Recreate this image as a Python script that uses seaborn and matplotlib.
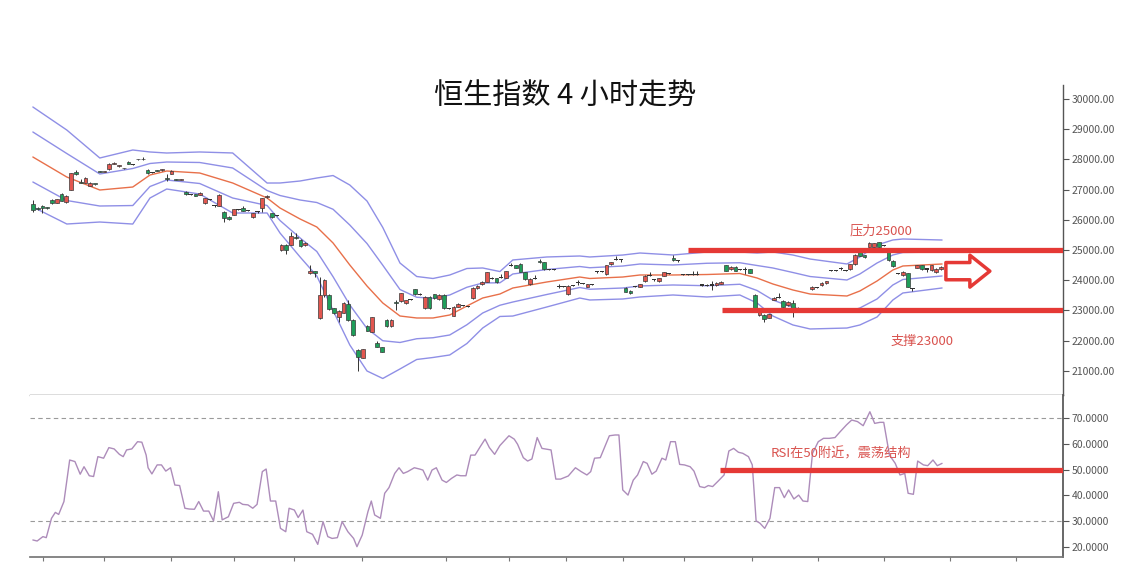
import numpy as np
import matplotlib
matplotlib.use("Agg")
import matplotlib.pyplot as plt
import seaborn as sns

# ---- 4h candles ----
opens = [26510, 26380, 26470, 26400, 26660, 26570, 26850, 26580, 26990, 27570,
         27240, 27230, 27130, 27190, 27600, 27590, 27670, 27850, 27780, 27700,
         27930, 27820, 28000, 28010, 27650, 27560, 27630, 27650, 27370, 27530,
         27340, 27330, 26930, 26840, 26850, 26820, 26550, 26680, 26460, 26460,
         26270, 26100, 26160, 26330, 26380, 26320, 26100, 26270, 26380, 26740,
         26210, 26130, 25000, 25170, 25170, 25410, 25330, 25150, 24230, 24300,
         22740, 23510, 23510, 23070, 22790, 22930, 23210, 22680, 21690, 21440,
         22480, 22300, 21910, 21780, 22680, 22480, 23260, 23310, 23230, 23370,
         23700, 23540, 23070, 23460, 23530, 23370, 23510, 23070, 22820, 23120,
         23150, 23120, 23400, 23730, 23870, 23950, 24060, 24060, 24100, 24080,
         24480, 24500, 24540, 24260, 23860, 24060, 24640, 24590, 24360, 24360,
         23790, 23780, 23530, 23820, 23930, 23900, 23790, 23860, 24300, 24300,
         24200, 24530, 24700, 24670, 23750, 23640, 23790, 23790, 23970, 24170,
         24030, 23970, 24150, 24230, 24750, 24640, 24190, 24190, 24190, 24180,
         23840, 23820, 23840, 23830, 23880, 24500, 24360, 24450, 24360, 24340,
         24360, 23510, 22850, 22850, 22760, 23350, 23430, 23310, 23170, 23230,
         23070, 23040, 23000, 23700, 23760, 23840, 23900, 24310, 24310, 24390,
         24330, 24360, 24530, 24920, 24830, 25110, 25110, 25250, 25140, 24940,
         24650, 24230, 24170, 24230, 23730, 24420, 24500, 24370, 24340, 24260,
         24370]
closes = [26330, 26360, 26380, 26390, 26550, 26680, 26630, 26790, 27540, 27510,
          27230, 27400, 27230, 27180, 27590, 27600, 27850, 27860, 27790, 27710,
          27850, 27820, 28010, 28000, 27540, 27560, 27620, 27660, 27360, 27620,
          27330, 27340, 26840, 26840, 26800, 26900, 26710, 26680, 26460, 26820,
          26050, 26030, 26350, 26330, 26290, 26320, 26210, 26270, 26710, 26790,
          26080, 26130, 25170, 25000, 25470, 25400, 25130, 25240, 24300, 24230,
          23510, 24010, 23050, 22900, 22980, 23260, 22680, 22180, 21470, 21710,
          22330, 22770, 21800, 21630, 22480, 22680, 23250, 23560, 23340, 23370,
          23540, 23540, 23460, 23070, 23400, 23510, 23070, 23070, 23120, 23210,
          23150, 23120, 23750, 23820, 23950, 24260, 24060, 23930, 24100, 24300,
          24480, 24420, 24280, 24040, 24040, 24060, 24590, 24370, 24360, 24360,
          23790, 23780, 23820, 23820, 23930, 23900, 23860, 23860, 24300, 24300,
          24500, 24590, 24700, 24670, 23620, 23570, 23790, 23860, 24140, 24170,
          24030, 24060, 24260, 24230, 24670, 24640, 24190, 24190, 24190, 24180,
          23840, 23820, 23840, 23920, 23950, 24320, 24450, 24320, 24360, 24340,
          24250, 23010, 22960, 22720, 22870, 23420, 23430, 23120, 23280, 22990,
          23070, 23040, 23000, 23780, 23760, 23920, 23970, 24310, 24310, 24390,
          24330, 24530, 24850, 24810, 24760, 25240, 25220, 25110, 25140, 24670,
          24470, 24230, 24280, 23790, 23730, 24500, 24370, 24370, 24500, 24370,
          24450]
highs = [26660, 26420, 26500, 26430, 26690, 26700, 26900, 26810, 27560, 27650,
         27340, 27420, 27250, 27200, 27610, 27610, 27870, 27930, 27800, 27720,
         27950, 27840, 28020, 28090, 27680, 27580, 27650, 27670, 27530, 27640,
         27360, 27350, 26950, 26860, 26870, 26920, 26720, 26700, 26480, 26840,
         26290, 26120, 26370, 26350, 26450, 26340, 26230, 26290, 26730, 26810,
         26230, 26150, 25190, 25190, 25580, 25560, 25350, 25260, 24500, 24320,
         24100, 24030, 23530, 23090, 23000, 23280, 23340, 22700, 21720, 21730,
         22520, 22790, 21990, 21800, 22700, 22700, 23350, 23580, 23360, 23390,
         23720, 23560, 23480, 23480, 23550, 23530, 23530, 23090, 23140, 23230,
         23170, 23140, 23770, 23840, 23970, 24280, 24090, 24080, 24200, 24320,
         24580, 24520, 24560, 24280, 24060, 24180, 24700, 24610, 24380, 24380,
         23870, 23800, 23840, 23840, 24000, 23920, 23880, 23880, 24320, 24320,
         24520, 24610, 24800, 24690, 23770, 23660, 23810, 23880, 24160, 24280,
         24050, 24080, 24280, 24250, 24850, 24660, 24210, 24210, 24300, 24300,
         23860, 23860, 23990, 23940, 23970, 24520, 24470, 24470, 24380, 24440,
         24380, 23530, 22980, 22870, 22890, 23440, 23560, 23330, 23300, 23350,
         23120, 23060, 23020, 23800, 23780, 23940, 23990, 24330, 24330, 24440,
         24350, 24550, 24870, 24940, 24850, 25260, 25240, 25270, 25160, 24960,
         24670, 24250, 24300, 24250, 23750, 24520, 24520, 24390, 24520, 24390,
         24470]
lows = [26270, 26320, 26210, 26370, 26530, 26560, 26620, 26570, 26980, 27490,
        27210, 27220, 27120, 27160, 27580, 27580, 27660, 27840, 27740, 27690,
        27840, 27800, 27990, 27990, 27530, 27540, 27610, 27630, 27290, 27520,
        27320, 27320, 26830, 26820, 26780, 26810, 26530, 26640, 26440, 26450,
        25940, 26010, 26150, 26310, 26280, 26300, 26060, 26240, 26250, 26730,
        26060, 26110, 24960, 24880, 25150, 25380, 25110, 25130, 24200, 24100,
        22720, 23450, 23030, 22880, 22620, 22910, 22660, 22160, 20980, 21420,
        22310, 22280, 21780, 21610, 22460, 22460, 23020, 23290, 23200, 23350,
        23520, 23520, 23050, 23050, 23380, 23350, 23050, 23050, 22800, 23100,
        23130, 23100, 23380, 23710, 23850, 23930, 24040, 23910, 24080, 24060,
        24460, 24400, 24260, 24020, 23840, 24040, 24570, 24350, 24340, 24340,
        23740, 23760, 23510, 23800, 23830, 23880, 23770, 23840, 24240, 24280,
        24180, 24510, 24680, 24600, 23600, 23550, 23770, 23770, 23950, 24150,
        23980, 23950, 24130, 24210, 24650, 24600, 24170, 24170, 24170, 24160,
        23820, 23800, 23660, 23810, 23860, 24300, 24340, 24300, 24340, 24210,
        24230, 22990, 22830, 22620, 22740, 23330, 23410, 23100, 23150, 22790,
        23050, 23020, 22980, 23680, 23740, 23820, 23880, 24290, 24290, 24330,
        24310, 24340, 24510, 24790, 24740, 25090, 25090, 25090, 25120, 24650,
        24450, 24210, 24150, 23770, 23650, 24400, 24350, 24270, 24320, 24240,
        24350]

# ---- Bollinger bands: middle line and one standard deviation ----
band_x = [0, 7.1, 14, 20.9, 24.5, 28, 34.9, 41.8, 49, 51.7, 55.9, 59.4, 62.8,
          66.3, 69.9, 73.2, 76.8, 80.3, 83.7, 87.2, 90.8, 94.1, 97.7, 100.4,
          107.5, 114.4, 116.5, 123.4, 127, 133.9, 141, 147.9, 151.5, 154.8, 159,
          162.6, 170.3, 173, 176.6, 179.9, 182, 190.2]
band_mid = [28080, 27417, 26987, 27086, 27484, 27616, 27550, 27219, 26722, 26391,
            26027, 25762, 25232, 24504, 23808, 23246, 22815, 22749, 22749, 22848,
            23146, 23411, 23543, 23742, 23941, 24106, 24057, 24106, 24173, 24173,
            24189, 24222, 24073, 23875, 23676, 23543, 23477, 23643, 23974, 24338,
            24471, 24537]
band_sd = [828, 778, 530, 613, 381, 298, 348, 497, 248, 414,
           629, 811, 1117, 1324, 1407, 1250, 877, 687, 654, 662,
           621, 497, 372, 464, 414, 348, 356, 364, 364, 331,
           372, 356, 414, 530, 579, 579, 530, 563, 596, 497,
           447, 397]

# ---- RSI ----
rsi_x = [0, 0.9, 2.1, 2.8, 3.9, 4.7, 5.4, 6.5, 7.7, 8.8, 9.9, 10.7, 11.8, 12.7,
         13.6, 14.8, 15.9, 17, 18.1, 18.9, 19.6, 20.7, 21.9, 22.8, 23.7, 24.1,
         24.9, 26, 26.9, 27.8, 28.8, 29.7, 30.7, 31.8, 32.7, 33.8, 34.7, 35.7,
         36.8, 37.8, 38.8, 39.6, 40.9, 42, 43.2, 43.9, 45, 46, 46.9, 48, 48.8,
         49.7, 50.8, 51.8, 52.9, 53.6, 54.7, 55.5, 56.5, 57.3, 58.5, 59.6, 60.7,
         61.7, 62.6, 63.7, 64.7, 65.9, 67.1, 67.8, 68.9, 70.1, 70.8, 71.5, 72.7,
         73.6, 74.5, 75.7, 76.6, 77.5, 78.4, 79.8, 80.9, 81.6, 82.6, 83.5, 84.4,
         85.6, 86.5, 87.6, 88.7, 89.5, 90.6, 91.6, 92.5, 93.6, 94.6, 95.5, 96.6,
         97.7, 98.6, 99.6, 100.7, 101.4, 102.6, 103.5, 104.4, 105.5, 106.5,
         108.4, 109.4, 110.4, 112, 113.5, 114.7, 115.9, 116.7, 117.5, 118.7,
         119.8, 120.6, 121.8, 122.6, 123.4, 124.5, 125.6, 126.5, 127.7, 128.5,
         129.5, 130.4, 131.6, 132.4, 133.4, 134.4, 135.3, 136.3, 137.5, 138.3,
         139.5, 140.5, 141.3, 142.2, 143.4, 144.6, 145.6, 146.6, 147.6, 148.5,
         149.7, 150.5, 151.3, 152.1, 153.1, 154.2, 155.2, 156.2, 157.2, 158.1,
         159.2, 160.2, 161.1, 162.1, 163.1, 164.3, 165.4, 166.6, 167.8, 168.9,
         170.2, 171.3, 172.5, 173.7, 175.1, 176.1, 177.2, 178, 179.2, 180.4,
         181.4, 182.4, 183.1, 184.2, 185.1, 186.3, 187.2, 188.3, 189.2, 190.2]
rsi = [22.7, 22.3, 24.0, 23.6, 31.1, 33.4, 32.6, 37.6, 53.7, 53.1, 48.2, 51.1,
       47.6, 47.3, 55.0, 54.4, 58.5, 58.0, 55.9, 55.0, 57.6, 58.0, 60.8, 60.6,
       55.6, 50.7, 48.3, 51.8, 51.8, 49.4, 50.7, 44.0, 43.8, 35.0, 34.7, 34.6,
       37.6, 33.9, 33.9, 30.1, 41.4, 30.5, 31.7, 36.9, 37.3, 36.5, 36.3, 35.0,
       36.5, 49.2, 50.2, 37.8, 37.8, 27.2, 25.9, 35.0, 34.3, 31.4, 34.3, 25.9,
       24.9, 21.0, 29.8, 24.0, 23.3, 23.6, 29.8, 25.9, 23.3, 20.1, 24.6, 33.7,
       37.8, 32.4, 31.1, 40.8, 43.0, 48.5, 50.7, 48.5, 49.2, 50.7, 50.2, 49.8,
       45.9, 49.8, 50.7, 45.9, 45.0, 46.6, 47.9, 47.6, 47.6, 55.6, 55.6, 58.9,
       61.8, 58.5, 55.9, 59.3, 61.1, 63.1, 61.8, 59.8, 54.6, 53.3, 54.1, 62.4,
       58.2, 57.6, 46.3, 46.3, 47.5, 50.7, 49.2, 47.9, 49.2, 54.4, 54.6, 59.5,
       63.1, 63.4, 63.4, 42.1, 40.1, 45.9, 47.9, 53.1, 52.4, 48.2, 49.4, 54.4,
       53.7, 60.8, 60.8, 52.0, 51.8, 51.1, 49.4, 43.4, 43.0, 43.8, 43.4, 45.6,
       47.9, 57.2, 58.2, 56.7, 56.3, 55.0, 51.8, 30.1, 29.2, 27.2, 31.1, 43.0,
       43.0, 39.1, 42.1, 38.6, 40.1, 37.8, 37.6, 56.3, 60.8, 62.1, 62.1, 62.4,
       64.7, 67.3, 69.2, 68.6, 67.0, 72.4, 67.9, 68.3, 68.3, 55.6, 52.4, 47.9,
       48.5, 40.8, 40.4, 53.3, 51.8, 51.5, 53.7, 51.5, 52.4]

price_ticks = [21000, 22000, 23000, 24000, 25000, 26000, 27000, 28000, 29000, 30000]
rsi_ticks = [20, 30, 40, 50, 60, 70]
rsi_guides = [30, 70]
date_ticks = [2.1, 14.8, 29, 42, 54.7, 68.9, 86.5, 99.6, 111.5, 123.4, 136.3,
              150.5, 164.3, 178, 191.8, 205.6]

# annotations
resist_level, resist_from = 25000, 137
support_level, support_from = 23000, 144.1
rsi_mid_level, rsi_mid_from = 50, 143.7
arrow_from, arrow_to, arrow_price = 191, 200.2, 24300

title = "恒生指数 4 小时走势"
resist_text = "压力25000"
support_text = "支撑23000"
rsi_text = "RSI在50附近，震荡结构"

sns.set_theme(style="white")
plt.rcParams['font.family'] = ['Noto Sans CJK SC', 'DejaVu Sans']

RED = "#e53935"
TXT_RED = "#d9534f"
BAND = "#8f8fe6"
MID = "#e8704a"
AX = "#555555"
XMIN, XMAX = -0.6, 215.5

fig = plt.figure(figsize=(11.3, 5.63), dpi=100)
W, H = 1130, 563
ax1 = fig.add_axes([30 / W, 1 - 395 / H, 1033 / W, 310 / H])
ax2 = fig.add_axes([30 / W, 1 - 557 / H, 1033 / W, 162 / H])

# --- price panel ---
o = np.array(opens)
c = np.array(closes)
idx = np.arange(len(o))
bottom = np.minimum(o, c)
height = np.abs(c - o)
up = c > o
down = c < o
doji = c == o

ax1.vlines(idx, lows, highs, color="#333333", lw=0.7, zorder=3)
ax1.bar(idx[up], np.maximum(height[up], 25), bottom=bottom[up], width=0.78,
        color="#e2564f", edgecolor="#3a3a3a", linewidth=0.5, zorder=4)
ax1.bar(idx[down], np.maximum(height[down], 25), bottom=bottom[down], width=0.78,
        color="#1f9e5a", edgecolor="#3a3a3a", linewidth=0.5, zorder=4)
ax1.bar(idx[doji], 35, bottom=bottom[doji] - 17, width=0.9,
        color="#333333", linewidth=0, zorder=4)

mid = np.array(band_mid)
sd = np.array(band_sd)
for k in (-2, -1, 1, 2):
    sns.lineplot(x=band_x, y=mid + k * sd, ax=ax1, color=BAND, lw=1.0,
                 estimator=None, sort=False, zorder=2)
sns.lineplot(x=band_x, y=mid, ax=ax1, color=MID, lw=1.0,
             estimator=None, sort=False, zorder=2)

ax1.hlines(resist_level, resist_from, XMAX, color=RED, lw=3.8, zorder=5)
ax1.hlines(support_level, support_from, XMAX, color=RED, lw=3.8, zorder=5)
ax1.annotate("", xy=(arrow_to, arrow_price), xytext=(arrow_from, arrow_price),
             arrowprops=dict(arrowstyle="simple,head_length=0.72,head_width=1.15,tail_width=0.62",
                             fc="white", ec=RED, lw=2.5, mutation_scale=20,
                             shrinkA=0, shrinkB=0), zorder=6)
ax1.text(170.9, 25630, resist_text, color=TXT_RED, fontsize=9.5, ha="left", va="center")
ax1.text(179.5, 21988, support_text, color=TXT_RED, fontsize=9.5, ha="left", va="center")

ax1.set_xlim(XMIN, XMAX)
ax1.set_ylim(20199, 30464)
ax1.yaxis.tick_right()
ax1.set_yticks(price_ticks)
ax1.set_yticklabels([f"{v:.2f}" for v in price_ticks])
ax1.set_xticks([])
ax1.set_xlabel("")
ax1.set_ylabel("")
for side in ("left", "top"):
    ax1.spines[side].set_visible(False)
for side in ("right", "bottom"):
    ax1.spines[side].set_color(AX)
    ax1.spines[side].set_linewidth(1.0)
ax1.tick_params(axis="y", which="both", right=True, direction="out", length=4,
                width=0.8, color=AX, labelsize=7.5, labelcolor=AX, pad=2)

# --- RSI panel ---
for g in rsi_guides:
    ax2.axhline(g, color="#9a9a9a", lw=0.8, ls=(0, (4, 3)), zorder=1)
sns.lineplot(x=rsi_x, y=rsi, ax=ax2, color="#ad8cba", lw=1.0,
             estimator=None, sort=False, zorder=3)
ax2.hlines(rsi_mid_level, rsi_mid_from, XMAX, color=RED, lw=3.8, zorder=4)
ax2.text(154.4, 56.0, rsi_text, color=TXT_RED, fontsize=9.5, ha="left", va="center")

ax2.set_xlim(XMIN, XMAX)
ax2.set_ylim(16.1, 78.9)
ax2.yaxis.tick_right()
ax2.set_yticks(rsi_ticks)
ax2.set_yticklabels([f"{v:.4f}" for v in rsi_ticks])
ax2.set_xticks(date_ticks)
ax2.set_xticklabels([])
ax2.set_xlabel("")
ax2.set_ylabel("")
for side in ("left", "top"):
    ax2.spines[side].set_visible(False)
ax2.spines["right"].set_color(AX)
ax2.spines["bottom"].set_color("#777777")
ax2.tick_params(axis="y", right=True, direction="out", length=4, width=0.8,
                color=AX, labelsize=7.5, labelcolor=AX, pad=2)
ax2.tick_params(axis="x", bottom=True, direction="out", length=3, width=0.8, color="#777777")

fig.text(0.5, 1 - 97 / H, title, ha="center", va="center", fontsize=21, color="#111111")

fig.savefig("out.png", dpi=100, facecolor="white")
